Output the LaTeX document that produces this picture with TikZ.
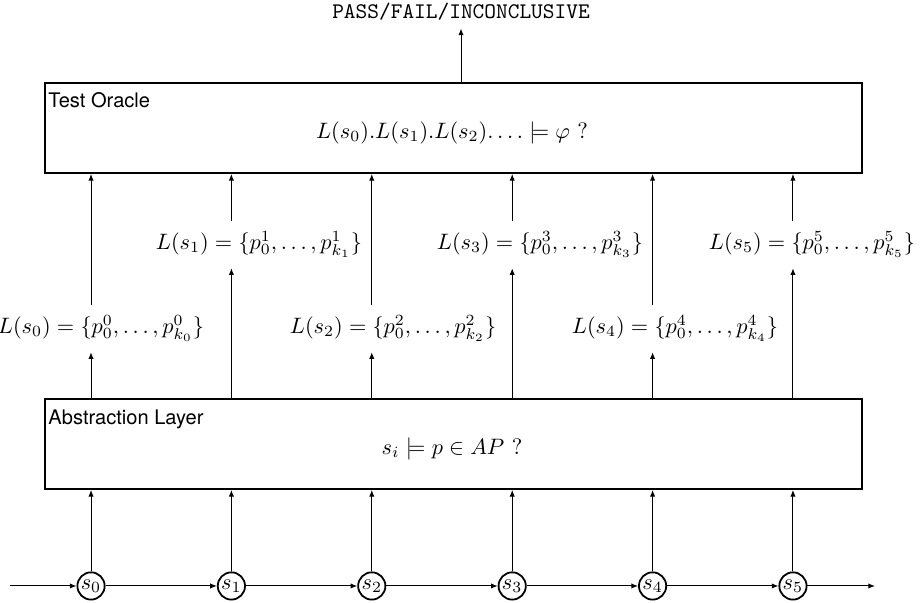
\documentclass[tikz,border=0pt]{standalone}
\usepackage{amsmath,amssymb}
\usepackage{fontspec}
\setsansfont{TeX Gyre Heros}
\usetikzlibrary{arrows.meta,calc,positioning}
\tikzset{
  flow/.style={-{Latex[length=3pt,width=2.4pt]}, line width=0.45pt},
  layer/.style={draw=black, line width=0.9pt, minimum width=128.8mm,
                minimum height=14.19mm, inner sep=0pt},
  layerlab/.style={font=\sffamily\small, anchor=base west, inner sep=0pt},
  statenode/.style={draw=black, circle, line width=0.8pt,
                    minimum size=12pt, inner sep=0.5pt, fill=white},
  labelnode/.style={inner sep=4.5pt},
  verdictlab/.style={font=\ttfamily},
}

\begin{document}
\begin{tikzpicture}[x=1cm,y=1cm]
  \path[use as bounding box] (0,0) rectangle (14.567,9.506);

  % Test oracle and its verdict.
  \node[layer] (oracle) at (7.149,7.489) {};
  \node[layerlab] (oraclelab) at (0.757,7.804) {Test Oracle};
  \node (oracleform) at (7.126,7.410)
    {$L(s_0).L(s_1).L(s_2).\ldots \models \varphi$ ?};
  \node[verdictlab] (verdict) at (7.268,9.317) {PASS/FAIL/INCONCLUSIVE};
  \draw[flow] (oracle.north -| verdict.south) -- (verdict.south);

  % Abstraction layer.
  \node[layer] (abstr) at (7.149,2.507) {};
  \node[layerlab] (abstrlab) at (0.757,2.806) {Abstraction Layer};
  \node (abstrform) at (7.126,2.428) {$s_i \models p \in AP$ ?};

  % Execution trace.
  \coordinate (runin) at (0.158,0.268);
  \coordinate (runout) at (13.794,0.268);
  \foreach \i/\xx in {0/1.435,1/3.648,2/5.861,3/8.075,4/10.288,5/12.501}{
    \node[statenode] (s\i) at (\xx,0.268) {$s_{\i}$};
  }
  \draw[flow] (runin) -- (s0);
  \foreach \i/\j in {0/1,1/2,2/3,3/4,4/5}{
    \draw[flow] (s\i) -- (s\j);
  }
  \draw[flow] (s5) -- (runout);

  % Labellings of the states.
  \foreach \i/\lx/\ly in {0/1.592/4.328,1/4.083/5.652,2/6.196/4.328,
                          3/8.513/5.652,4/10.641/4.328,5/12.801/5.652}{
    \node[labelnode] (L\i) at (\lx,\ly)
      {$L(s_{\i}) = \{p^{\i}_0,\ldots,p^{\i}_{k_{\i}}\}$};
  }

  \foreach \i in {0,...,5}{
    \draw[flow] (s\i.north) -- (s\i.north |- abstr.south);
    \draw[flow] (abstr.north -| s\i) -- (s\i |- L\i.south);
    \draw[flow] (s\i |- L\i.north) -- (oracle.south -| s\i);
  }
\end{tikzpicture}
\end{document}
